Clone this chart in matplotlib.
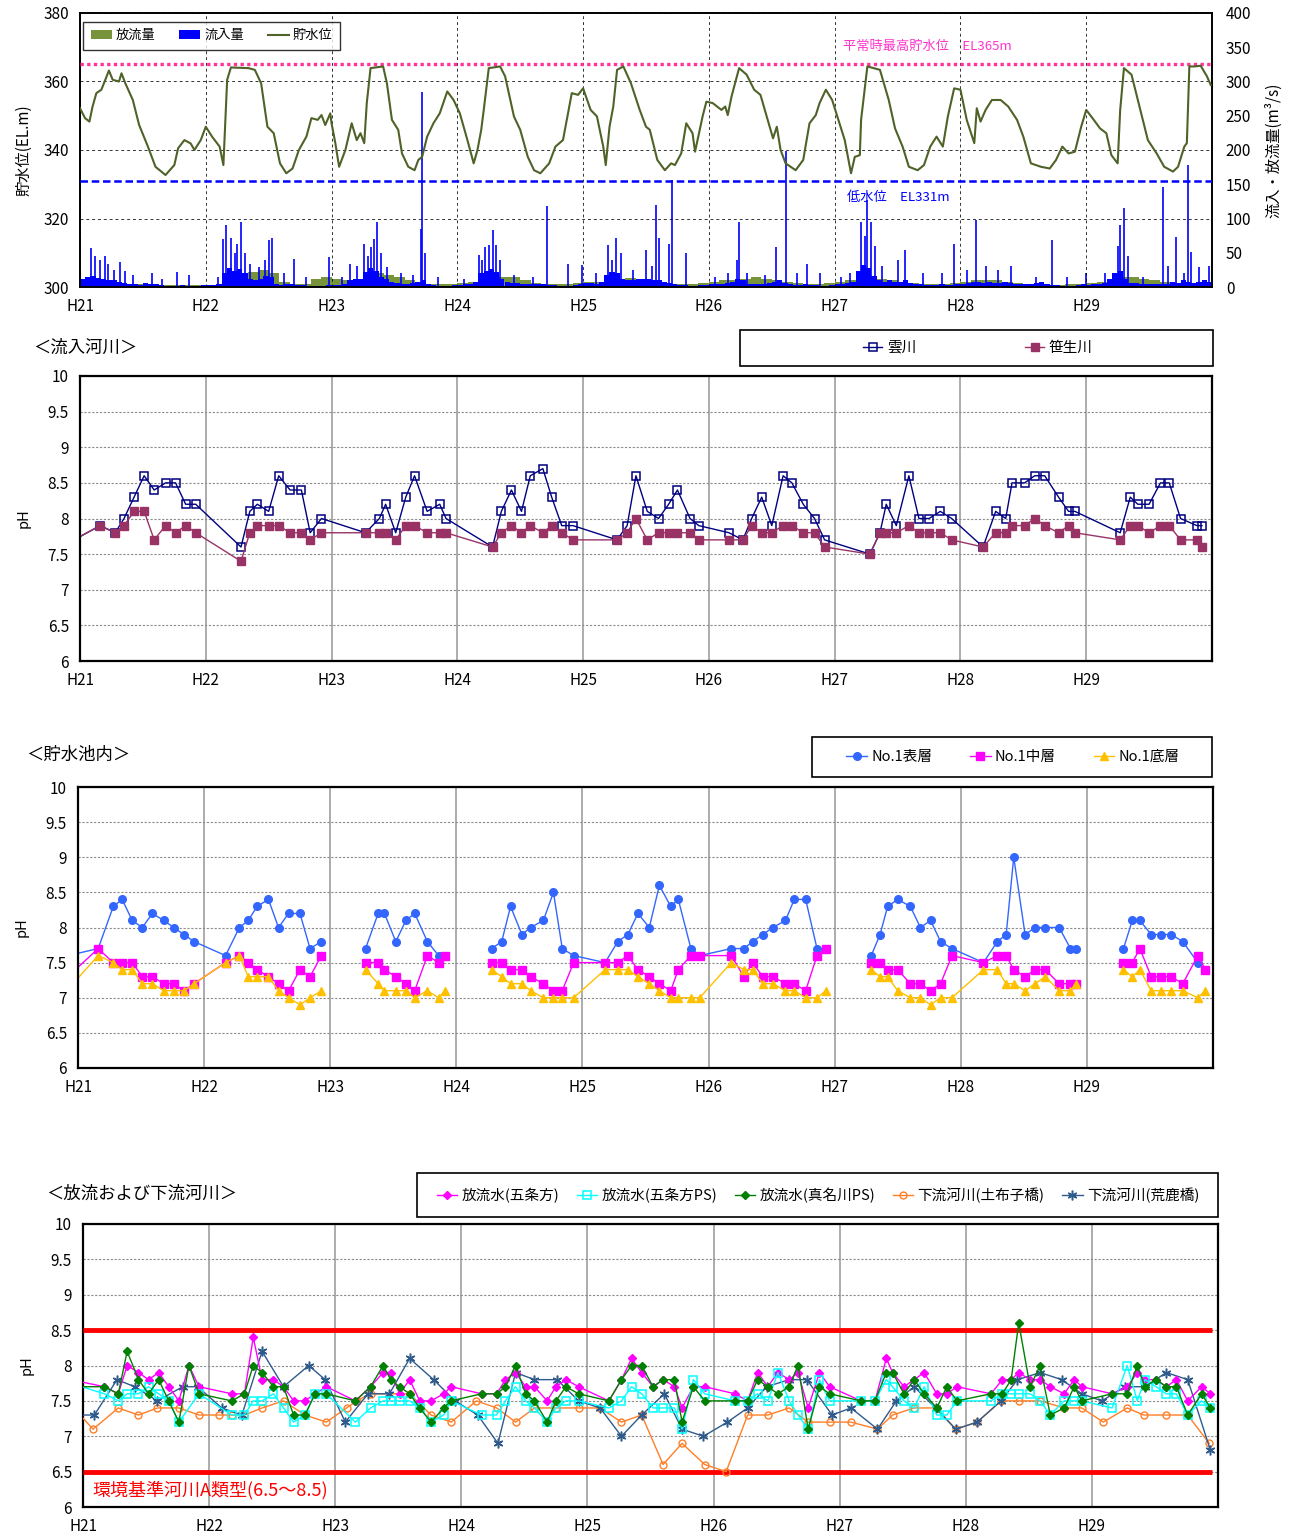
import numpy as np
import matplotlib
matplotlib.use('Agg')
import matplotlib.pyplot as plt
from matplotlib.patches import Patch, Rectangle
from matplotlib.lines import Line2D
from matplotlib.ticker import FuncFormatter

plt.rcParams['font.family'] = ['Noto Sans CJK JP', 'DejaVu Sans']
nan = np.nan

# ---------------- data ----------------
year_labels = ['H21', 'H22', 'H23', 'H24', 'H25', 'H26', 'H27', 'H28', 'H29']

# Panel 1 : reservoir water level (years since start of H21)
wl_t = [0.0, 0.04, 0.075, 0.1, 0.13, 0.17, 0.23, 0.26, 0.31, 0.33,
        0.36, 0.42, 0.47, 0.54, 0.6, 0.68, 0.75, 0.78, 0.83, 0.88,
        0.91, 0.96, 1.0, 1.05, 1.11, 1.14, 1.17, 1.2, 1.34, 1.39,
        1.44, 1.49, 1.54, 1.59, 1.64, 1.69, 1.74, 1.8, 1.84, 1.89,
        1.92, 1.95, 1.99, 2.0, 2.03, 2.06, 2.11, 2.16, 2.2, 2.23,
        2.26, 2.28, 2.31, 2.41, 2.44, 2.48, 2.53, 2.56, 2.61, 2.66,
        2.69, 2.72, 2.76, 2.81, 2.86, 2.92, 2.97, 3.02, 3.08, 3.13,
        3.16, 3.19, 3.21, 3.25, 3.34, 3.38, 3.45, 3.5, 3.56, 3.61,
        3.66, 3.73, 3.78, 3.84, 3.91, 3.96, 4.0, 4.06, 4.11, 4.16,
        4.18, 4.21, 4.24, 4.27, 4.32, 4.38, 4.45, 4.5, 4.53, 4.59,
        4.65, 4.7, 4.73, 4.78, 4.82, 4.87, 4.89, 4.95, 4.98, 5.03,
        5.1, 5.13, 5.15, 5.18, 5.24, 5.3, 5.36, 5.41, 5.46, 5.51,
        5.54, 5.57, 5.61, 5.69, 5.75, 5.8, 5.85, 5.88, 5.93, 5.98,
        6.03, 6.08, 6.13, 6.16, 6.2, 6.21, 6.26, 6.36, 6.43, 6.48,
        6.54, 6.59, 6.66, 6.71, 6.76, 6.81, 6.86, 6.9, 6.95, 7.0,
        7.05, 7.11, 7.13, 7.16, 7.2, 7.25, 7.32, 7.38, 7.45, 7.5,
        7.56, 7.64, 7.71, 7.76, 7.81, 7.86, 7.91, 7.96, 8.0, 8.06,
        8.11, 8.16, 8.2, 8.25, 8.27, 8.3, 8.36, 8.43, 8.49, 8.56,
        8.62, 8.69, 8.73, 8.78, 8.8, 8.82, 8.86, 8.91, 8.96, 8.99]
wl_level = [352.2, 349.3, 348.3, 352.7, 356.6, 357.6, 363.2, 360.5, 360.0, 362.4,
            359.5, 354.6, 347.3, 341.0, 335.1, 332.7, 335.6, 340.5, 342.9, 341.9,
            340.0, 342.9, 346.8, 343.9, 341.0, 335.6, 360.5, 364.1, 363.9, 363.4,
            359.5, 346.8, 344.9, 336.1, 333.2, 334.6, 340.0, 343.9, 349.3, 348.8,
            350.2, 347.3, 350.7, 347.8, 342.0, 335.1, 340.0, 347.8, 342.9, 344.9,
            342.0, 353.7, 363.9, 364.4, 359.5, 348.8, 345.9, 339.0, 335.1, 334.1,
            337.1, 338.0, 343.9, 347.8, 350.7, 357.1, 354.6, 350.7, 342.9, 336.1,
            340.0, 345.9, 351.7, 363.9, 364.4, 361.5, 349.8, 345.9, 338.0, 334.1,
            333.2, 336.1, 341.0, 342.9, 356.6, 356.1, 358.0, 351.7, 349.8, 341.0,
            335.6, 346.8, 352.7, 363.4, 364.4, 359.5, 351.7, 346.8, 345.9, 337.1,
            334.1, 336.1, 335.6, 339.0, 347.8, 344.9, 339.5, 349.8, 354.1, 353.7,
            351.7, 352.7, 350.2, 355.6, 363.9, 362.0, 357.6, 356.1, 349.8, 343.4,
            346.8, 340.0, 336.1, 334.1, 337.1, 347.8, 350.2, 353.7, 357.6, 354.6,
            348.8, 342.9, 333.2, 338.0, 338.5, 348.8, 364.4, 363.4, 354.6, 346.3,
            341.0, 335.1, 334.1, 335.6, 341.0, 343.9, 341.0, 349.8, 358.0, 357.6,
            348.8, 342.0, 352.2, 348.3, 351.7, 354.6, 354.6, 352.7, 348.8, 343.9,
            336.1, 335.1, 334.6, 337.1, 341.0, 339.0, 339.5, 346.8, 351.7, 348.8,
            346.3, 344.9, 338.5, 336.1, 351.7, 363.9, 362.0, 351.7, 342.9, 339.0,
            335.1, 333.7, 335.1, 341.0, 342.0, 364.4, 364.4, 364.6, 361.5, 359.0]

# inflow, half-month base values per fiscal year (m3/s)
inflow_half = [
    [12, 15, 16, 13, 11, 10, 10, 8, 6, 4, 4, 3, 6, 5, 4, 3, 2, 2, 2, 3, 2, 2, 2, 3],
    [3, 3, 5, 20, 28, 24, 26, 20, 12, 10, 11, 16, 14, 5, 3, 4, 5, 3, 3, 2, 2, 2, 2, 3],
    [3, 3, 5, 10, 11, 12, 22, 28, 24, 14, 11, 8, 6, 5, 5, 6, 8, 10, 5, 3, 2, 2, 2, 3],
    [3, 4, 5, 8, 20, 24, 26, 22, 11, 8, 6, 6, 5, 4, 4, 4, 5, 3, 3, 2, 2, 2, 3, 4],
    [6, 6, 5, 8, 18, 22, 20, 12, 10, 10, 11, 12, 11, 10, 10, 8, 6, 4, 3, 3, 2, 2, 3, 3],
    [4, 5, 5, 6, 8, 12, 10, 5, 5, 4, 5, 6, 8, 10, 6, 4, 3, 3, 4, 3, 3, 2, 2, 3],
    [4, 5, 6, 8, 24, 32, 28, 16, 10, 8, 10, 8, 8, 10, 6, 5, 4, 3, 3, 3, 4, 3, 3, 4],
    [5, 6, 8, 8, 6, 8, 6, 6, 8, 6, 5, 5, 4, 5, 6, 8, 4, 3, 3, 2, 2, 2, 3, 4],
    [3, 4, 5, 6, 12, 20, 24, 12, 6, 6, 5, 5, 4, 5, 4, 5, 8, 6, 10, 8, 6, 8, 10, 8],
]
# inflow flood peaks (time, m3/s)
peak_t = [0.085, 0.12, 0.16, 0.2, 0.22, 0.27, 0.32, 0.36, 0.42, 0.57, 0.65, 0.77, 0.87,
          1.1, 1.14, 1.16, 1.2, 1.23, 1.25, 1.28, 1.31, 1.35, 1.42, 1.47, 1.5, 1.53, 1.62, 1.7, 1.8, 1.98,
          2.08, 2.15, 2.2, 2.26, 2.29, 2.31, 2.34, 2.36, 2.39, 2.44, 2.55, 2.65, 2.71, 2.72, 2.74, 2.85,
          3.05, 3.17, 3.2, 3.22, 3.25, 3.28, 3.31, 3.34, 3.45, 3.6, 3.71, 3.88,
          3.99, 4.1, 4.2, 4.23, 4.26, 4.3, 4.4, 4.5, 4.55, 4.58, 4.6, 4.68, 4.71, 4.82,
          5.05, 5.15, 5.22, 5.24, 5.3, 5.45, 5.53, 5.61, 5.7, 5.78, 5.88,
          6.05, 6.12, 6.21, 6.24, 6.26, 6.29, 6.32, 6.38, 6.5, 6.56, 6.7, 6.85, 6.95,
          7.05, 7.12, 7.2, 7.3, 7.4, 7.6, 7.73, 7.85, 8.0,
          8.15, 8.25, 8.27, 8.3, 8.33, 8.45, 8.61, 8.65, 8.71, 8.78, 8.81, 8.83, 8.9, 8.98]
peak_v = [57, 45, 39, 45, 34, 25, 37, 24, 17, 20, 12, 22, 17,
          15, 70, 90, 71, 50, 63, 95, 49, 34, 29, 40, 68, 71, 20, 41, 15, 44,
          15, 34, 30, 63, 45, 58, 70, 95, 49, 29, 20, 18, 85, 285, 49, 15,
          12, 46, 40, 58, 61, 83, 61, 39, 18, 15, 118, 34,
          32, 20, 61, 40, 71, 49, 25, 54, 30, 120, 71, 63, 156, 49,
          15, 20, 40, 95, 20, 18, 58, 198, 20, 34, 20,
          15, 20, 95, 75, 127, 95, 60, 30, 40, 54, 20, 20, 63,
          25, 98, 30, 25, 30, 15, 68, 15, 20,
          20, 60, 90, 115, 45, 15, 146, 30, 73, 20, 178, 51, 29, 30]
# outflow, monthly per fiscal year (m3/s)
outflow_month = [
    [8, 8, 8, 6, 5, 4, 4, 3, 3, 3, 3, 3],
    [3, 5, 10, 15, 22, 25, 20, 8, 5, 5, 12, 15],
    [12, 10, 12, 14, 20, 18, 15, 10, 6, 5, 4, 5],
    [6, 8, 10, 12, 15, 14, 10, 6, 5, 5, 5, 6],
    [8, 8, 10, 12, 13, 12, 8, 5, 4, 4, 5, 6],
    [8, 10, 10, 12, 14, 12, 10, 8, 6, 5, 5, 6],
    [8, 10, 12, 14, 12, 10, 8, 6, 5, 5, 5, 6],
    [8, 10, 10, 10, 8, 6, 5, 4, 3, 3, 4, 5],
    [6, 8, 10, 15, 14, 12, 10, 8, 6, 5, 6, 8],
]

# Panel 2 : inflow rivers pH
river_t = [-0.1, 0.16, 0.28, 0.35, 0.43, 0.51, 0.59, 0.68, 0.76, 0.84, 0.92,
           1.28, 1.35, 1.41, 1.5, 1.58, 1.67, 1.76, 1.83, 1.92,
           2.27, 2.38, 2.43, 2.51, 2.59, 2.66, 2.76, 2.86, 2.91,
           3.28, 3.35, 3.43, 3.51, 3.58, 3.68, 3.75, 3.83, 3.92,
           4.27, 4.35, 4.42, 4.51, 4.6, 4.68, 4.75, 4.85, 4.92,
           5.16, 5.27, 5.34, 5.42, 5.5, 5.59, 5.66, 5.75, 5.84, 5.92,
           6.28, 6.36, 6.41, 6.49, 6.59, 6.67, 6.75, 6.84, 6.93,
           7.18, 7.28, 7.36, 7.41, 7.51, 7.59, 7.67, 7.78, 7.86, 7.91,
           8.27, 8.35, 8.41, 8.5, 8.59, 8.66, 8.75, 8.88, 8.92]
kumo = [7.65, 7.9, 7.8, 8.0, 8.3, 8.6, 8.4, 8.5, 8.5, 8.2, 8.2,
        7.6, 8.1, 8.2, 8.1, 8.6, 8.4, 8.4, 7.8, 8.0,
        7.8, 8.0, 8.2, 7.8, 8.3, 8.6, 8.1, 8.2, 8.0,
        7.6, 8.1, 8.4, 8.1, 8.6, 8.7, 8.3, 7.9, 7.9,
        7.7, 7.9, 8.6, 8.1, 8.0, 8.2, 8.4, 8.0, 7.9,
        7.8, 7.7, 8.0, 8.3, 7.9, 8.6, 8.5, 8.2, 8.0, 7.7,
        7.5, 7.8, 8.2, 7.9, 8.6, 8.0, 8.0, 8.1, 8.0,
        7.6, 8.1, 8.0, 8.5, 8.5, 8.6, 8.6, 8.3, 8.1, 8.1,
        7.8, 8.3, 8.2, 8.2, 8.5, 8.5, 8.0, 7.9, 7.9]
sasou = [7.65, 7.9, 7.8, 7.9, 8.1, 8.1, 7.7, 7.9, 7.8, 7.9, 7.8,
         7.4, 7.8, 7.9, 7.9, 7.9, 7.8, 7.8, 7.7, 7.8,
         7.8, 7.8, 7.8, 7.7, 7.9, 7.9, 7.8, 7.8, 7.8,
         7.6, 7.8, 7.9, 7.8, 7.9, 7.8, 7.9, 7.8, 7.7,
         7.7, 7.8, 8.0, 7.7, 7.8, 7.8, 7.8, 7.8, 7.7,
         7.7, 7.7, 7.9, 7.8, 7.8, 7.9, 7.9, 7.8, 7.8, 7.6,
         7.5, 7.8, 7.8, 7.8, 7.9, 7.8, 7.8, 7.8, 7.7,
         7.6, 7.8, 7.8, 7.9, 7.9, 8.0, 7.9, 7.8, 7.9, 7.8,
         7.7, 7.9, 7.9, 7.8, 7.9, 7.9, 7.7, 7.7, 7.6]

# Panel 3 : reservoir pH (nan = no survey, line break)
res_t = [-0.08, 0.16, 0.28, 0.35, 0.43, 0.51, 0.59, 0.68, 0.76, 0.84, 0.92,
         1.17, 1.28, 1.35, 1.42, 1.51, 1.59, 1.67, 1.76, 1.84, 1.93, nan,
         2.28, 2.38, 2.43, 2.52, 2.6, 2.67, 2.77, 2.86, 2.91, nan,
         3.28, 3.36, 3.43, 3.52, 3.59, 3.69, 3.77, 3.84, 3.93,
         4.18, 4.28, 4.36, 4.44, 4.53, 4.61, 4.7, 4.76, 4.86, 4.93,
         5.18, 5.28, 5.35, 5.43, 5.51, 5.61, 5.68, 5.77, 5.86, 5.93, nan,
         6.29, 6.36, 6.42, 6.5, 6.6, 6.68, 6.76, 6.84, 6.93,
         7.18, 7.29, 7.36, 7.42, 7.51, 7.59, 7.67, 7.78, 7.87, 7.91, nan,
         8.29, 8.36, 8.42, 8.51, 8.59, 8.67, 8.76, 8.88, 8.94]
res_surface = [7.6, 7.7, 8.3, 8.4, 8.1, 8.0, 8.2, 8.1, 8.0, 7.9, 7.8,
               7.6, 8.0, 8.1, 8.3, 8.4, 8.0, 8.2, 8.2, 7.7, 7.8, nan,
               7.7, 8.2, 8.2, 7.8, 8.1, 8.2, 7.8, 7.6, nan, nan,
               7.7, 7.8, 8.3, 7.9, 8.0, 8.1, 8.5, 7.7, 7.6,
               7.5, 7.8, 7.9, 8.2, 8.0, 8.6, 8.3, 8.4, 7.7, 7.6,
               7.7, 7.7, 7.8, 7.9, 8.0, 8.1, 8.4, 8.4, 7.7, 7.7, nan,
               7.6, 7.9, 8.3, 8.4, 8.3, 8.0, 8.1, 7.8, 7.7,
               7.5, 7.8, 7.9, 9.0, 7.9, 8.0, 8.0, 8.0, 7.7, 7.7, nan,
               7.7, 8.1, 8.1, 7.9, 7.9, 7.9, 7.8, 7.5, 7.4]
res_middle = [7.3, 7.7, 7.5, 7.5, 7.5, 7.3, 7.3, 7.2, 7.2, 7.1, 7.2,
              7.5, 7.6, 7.5, 7.4, 7.3, 7.2, 7.1, 7.4, 7.3, 7.6, nan,
              7.5, 7.5, 7.4, 7.3, 7.2, 7.1, 7.6, 7.5, 7.6, nan,
              7.5, 7.5, 7.4, 7.4, 7.3, 7.2, 7.1, 7.1, 7.5,
              7.5, 7.5, 7.6, 7.4, 7.3, 7.2, 7.1, 7.4, 7.6, 7.6,
              7.6, 7.3, 7.5, 7.3, 7.3, 7.2, 7.2, 7.1, 7.6, 7.7, nan,
              7.5, 7.5, 7.4, 7.4, 7.2, 7.2, 7.1, 7.2, 7.6,
              7.5, 7.6, 7.6, 7.4, 7.3, 7.4, 7.4, 7.2, 7.2, 7.2, nan,
              7.5, 7.5, 7.7, 7.3, 7.3, 7.3, 7.2, 7.6, 7.4]
res_bottom = [7.12, 7.6, 7.5, 7.4, 7.4, 7.2, 7.2, 7.1, 7.1, 7.1, 7.2,
              7.5, 7.6, 7.3, 7.3, 7.3, 7.1, 7.0, 6.9, 7.0, 7.1, nan,
              7.4, 7.2, 7.1, 7.1, 7.1, 7.0, 7.1, 7.0, 7.1, nan,
              7.4, 7.3, 7.2, 7.2, 7.1, 7.0, 7.0, 7.0, 7.0,
              7.4, 7.4, 7.4, 7.3, 7.2, 7.1, 7.0, 7.0, 7.0, 7.0,
              7.5, 7.4, 7.4, 7.2, 7.2, 7.1, 7.1, 7.0, 7.0, 7.1, nan,
              7.4, 7.3, 7.3, 7.1, 7.0, 7.0, 6.9, 7.0, 7.0,
              7.4, 7.4, 7.2, 7.2, 7.1, 7.2, 7.3, 7.1, 7.1, 7.2, nan,
              7.4, 7.3, 7.4, 7.1, 7.1, 7.1, 7.1, 7.0, 7.1]

# Panel 4 : discharge / downstream pH
dis_t = [-0.1,
         0.17, 0.28, 0.35, 0.44, 0.52, 0.6, 0.68, 0.76, 0.84, 0.92,
         1.18, 1.28, 1.35, 1.42, 1.51, 1.59, 1.67, 1.76, 1.84, 1.93,
         2.16, 2.28, 2.38, 2.44, 2.51, 2.59, 2.67, 2.76, 2.86, 2.92,
         3.16, 3.28, 3.35, 3.43, 3.51, 3.58, 3.68, 3.75, 3.83, 3.93,
         4.17, 4.27, 4.35, 4.43, 4.52, 4.6, 4.69, 4.75, 4.84, 4.93,
         5.17, 5.27, 5.35, 5.43, 5.51, 5.6, 5.67, 5.75, 5.84, 5.92,
         6.17, 6.28, 6.37, 6.42, 6.51, 6.59, 6.67, 6.77, 6.85, 6.93,
         7.2, 7.29, 7.36, 7.42, 7.51, 7.59, 7.67, 7.78, 7.86, 7.92,
         8.16, 8.28, 8.36, 8.42, 8.51, 8.59, 8.67, 8.76, 8.87, 8.94]
gojo = [7.8,
        7.7, 7.6, 8.0, 7.9, 7.8, 7.9, 7.7, 7.5, 8.0, 7.7,
        7.6, 7.6, 8.4, 7.8, 7.8, 7.7, 7.5, 7.5, 7.6, 7.7,
        7.5, 7.7, 7.9, 7.9, 7.6, 7.8, 7.5, 7.5, 7.6, 7.7,
        7.6, 7.6, 7.8, 7.9, 7.7, 7.7, 7.5, 7.7, 7.8, 7.7,
        7.5, 7.8, 8.1, 7.9, 7.7, 7.8, 7.7, 7.4, 7.7, 7.7,
        7.6, 7.5, 7.9, 7.7, 7.9, 7.8, 7.9, 7.4, 7.9, 7.7,
        7.5, 7.5, 8.1, 7.9, 7.7, 7.8, 7.9, 7.6, 7.6, 7.7,
        7.6, 7.8, 7.8, 7.9, 7.8, 7.8, 7.7, 7.6, 7.8, 7.7,
        7.6, 7.7, 7.9, 7.8, 7.8, 7.7, 7.8, 7.5, 7.7, 7.6]
gojo_ps = [7.75,
           7.6, 7.5, 7.6, 7.6, 7.7, 7.6, 7.5, 7.2, nan, 7.6,
           7.3, 7.3, 7.5, 7.5, 7.6, 7.4, 7.2, 7.3, 7.6, 7.6,
           7.2, 7.4, 7.5, 7.5, 7.5, 7.5, 7.4, 7.2, 7.3, 7.5,
           7.3, 7.3, 7.5, 7.7, 7.5, 7.4, 7.2, 7.4, 7.5, 7.5,
           7.4, 7.5, 7.7, 7.6, 7.4, 7.4, 7.4, 7.1, 7.8, 7.6,
           7.5, 7.5, 7.6, 7.5, 7.9, 7.5, 7.3, 7.1, 7.8, 7.5,
           7.5, 7.5, 7.8, 7.7, 7.5, 7.4, 7.7, 7.3, 7.3, 7.5,
           7.5, 7.6, 7.6, 7.6, 7.6, 7.5, 7.3, 7.5, 7.5, 7.5,
           7.4, 8.0, 7.5, 7.8, 7.7, 7.6, 7.6, 7.3, 7.5, 7.4]
manago_ps = [7.7,
             7.7, 7.6, 8.2, 7.8, 7.6, 7.8, 7.5, 7.2, 8.0, 7.6,
             7.5, 7.6, 8.0, 7.9, 7.7, 7.7, 7.3, 7.3, 7.6, 7.6,
             7.5, 7.7, 8.0, 7.8, 7.7, 7.6, 7.4, 7.2, 7.4, 7.5,
             7.6, 7.6, 7.7, 8.0, 7.6, 7.5, 7.2, 7.5, 7.7, 7.6,
             7.5, 7.8, 8.0, 8.0, 7.7, 7.8, 7.8, 7.2, 7.7, 7.5,
             7.5, 7.5, 7.8, 7.7, 7.6, 7.7, 8.0, 7.1, 7.7, 7.6,
             7.5, 7.5, 7.9, 7.9, 7.6, 7.8, 7.6, 7.4, 7.7, 7.5,
             7.6, 7.6, 7.8, 8.6, 7.7, 8.0, 7.3, 7.4, 7.7, 7.5,
             7.6, 7.6, 8.0, 7.7, 7.8, 7.7, 7.7, 7.3, 7.6, 7.4]
dobuko_t = [-0.1, 0.08, 0.28, 0.44, 0.59, 0.76, 0.92,
            1.08, 1.18, 1.28, 1.42, 1.59, 1.76, 1.93,
            2.09, 2.17, 2.28, 2.59, 2.76, 2.92,
            3.12, 3.28, 3.43, 3.58, 3.75, 3.93,
            4.1, 4.27, 4.43, 4.6, 4.75, 4.93,
            5.1, 5.27, 5.43, 5.6, 5.75, 5.92,
            6.09, 6.3, 6.42, 6.59, 6.77, 6.92,
            7.09, 7.28, 7.42, 7.59, 7.78, 7.92,
            8.09, 8.28, 8.41, 8.59, 8.76, 8.93]
dobuko = [7.45, 7.1, 7.4, 7.3, 7.4, 7.4, 7.3,
          7.3, 7.3, 7.3, 7.4, 7.5, 7.3, 7.2,
          7.4, 7.5, 7.6, 7.6, 7.3, 7.2,
          7.5, 7.4, 7.2, 7.4, 7.4, 7.4,
          7.4, 7.2, 7.3, 6.6, 6.9, 6.6,
          6.5, 7.3, 7.3, 7.4, 7.2, 7.2,
          7.2, 7.1, 7.3, 7.4, 7.4, 7.1,
          7.2, 7.5, 7.5, 7.5, 7.4, 7.4,
          7.2, 7.4, 7.3, 7.3, 7.3, 6.9]
arashika_t = [-0.1, 0.09, 0.27, 0.41, 0.59, 0.79, 0.91,
              1.1, 1.26, 1.42, 1.59, 1.79, 1.92,
              2.08, 2.26, 2.43, 2.59, 2.78, 2.95,
              3.13, 3.29, 3.43, 3.58, 3.76, 3.93,
              4.1, 4.27, 4.43, 4.61, 4.75, 4.92,
              5.11, 5.27, 5.42, 5.6, 5.74, 5.94,
              6.09, 6.3, 6.45, 6.59, 6.76, 6.92,
              7.09, 7.28, 7.41, 7.59, 7.76, 7.92,
              8.08, 8.26, 8.42, 8.59, 8.76, 8.94]
arashika = [7.3, 7.3, 7.8, 7.7, 7.5, 7.7, 7.7,
            7.4, 7.3, 8.2, 7.7, 8.0, 7.8,
            7.2, 7.6, 7.6, 8.1, 7.8, 7.5,
            7.3, 6.9, 7.9, 7.8, 7.8, 7.5,
            7.4, 7.0, 7.3, 7.6, 7.1, 7.0,
            7.2, 7.4, 7.7, 7.8, 7.8, 7.3,
            7.4, 7.1, 7.5, 7.7, 7.4, 7.1,
            7.2, 7.5, 7.8, 7.9, 7.8, 7.6,
            7.5, 7.7, 7.7, 7.9, 7.8, 6.8]

# ---------------- figure ----------------
W, H = 1289, 1535
fig = plt.figure(figsize=(W / 100, H / 100), dpi=100)


def fx(px):
    return px / W


def fy(py):
    return 1 - py / H


def axrect(l, t, r, b):
    return [l / W, 1 - b / H, (r - l) / W, (b - t) / H]


TICK_FS = 11
fmt = FuncFormatter(lambda v, p: f'{v:g}')


def style_ph_axes(ax):
    ax.set_xlim(0, 9)
    ax.set_ylim(6, 10)
    ax.set_yticks(np.arange(6, 10.01, 0.5))
    ax.yaxis.set_major_formatter(fmt)
    ax.set_xticks(range(9))
    ax.set_xticklabels(year_labels)
    ax.tick_params(length=0, labelsize=TICK_FS, pad=8)
    ax.yaxis.grid(True, color='#8c8c8c', ls=(0, (2, 1.5)), lw=0.8)
    ax.xaxis.grid(True, color='#a6a6a6', ls='-', lw=1.3)
    ax.set_axisbelow(True)
    for s in ax.spines.values():
        s.set_color('black')
        s.set_linewidth(1.6)


# ---- Panel 1 ----
ax1 = fig.add_axes(axrect(80, 13, 1212, 287))
ax2 = ax1.twinx()
month_t = np.arange(9 * 12) / 12.0
ax2.bar(month_t, np.ravel(outflow_month), width=1 / 12, align='edge',
        color='#77933C', lw=0, zorder=1)
half_t = np.arange(9 * 24) / 24.0
ax2.bar(half_t, np.ravel(inflow_half), width=1 / 24, align='edge',
        color='#0000FF', lw=0, zorder=2)
ax2.vlines(peak_t, 0, peak_v, color='#0000FF', lw=1.2, zorder=3)
ax2.set_ylim(0, 400)
ax2.set_yticks(np.arange(0, 401, 50))
ax2.tick_params(length=0, labelsize=TICK_FS, pad=10)
ax2.set_ylabel('流入・放流量(m³/s)', fontsize=11, labelpad=10)

ax1.set_zorder(ax2.get_zorder() + 1)
ax1.patch.set_visible(False)
ax1.plot(wl_t, wl_level, color='#4F6228', lw=1.5, zorder=5)
ax1.axhline(365, color='#FF3399', lw=2.4, ls=(0, (1, 1)), zorder=4)
ax1.axhline(331, color='#0000FF', lw=1.8, ls=(0, (3, 1.5)), zorder=4)
ax1.set_xlim(0, 9)
ax1.set_ylim(300, 380)
ax1.set_yticks(np.arange(300, 381, 20))
ax1.set_xticks(range(9))
ax1.set_xticklabels(year_labels)
ax1.tick_params(length=0, labelsize=TICK_FS, pad=8)
ax1.grid(True, color='black', ls=(0, (3, 3)), lw=0.7, alpha=0.8)
ax1.set_ylabel('貯水位(EL.m)', fontsize=11, labelpad=8)
for s in list(ax1.spines.values()) + list(ax2.spines.values()):
    s.set_color('black')
    s.set_linewidth(1.2)
fig.text(fx(843), fy(46), '平常時最高貯水位　EL365m', color='#FF33CC',
         fontsize=9.5, va='center', ha='left')
fig.text(fx(847), fy(198), '低水位　EL331m', color='#0000FF',
         fontsize=9.5, va='center', ha='left')
h1 = [Patch(fc='#77933C', ec='none'), Patch(fc='#0000FF', ec='none'),
      Line2D([], [], color='#4F6228', lw=1.5)]
leg1 = ax1.legend(h1, ['放流量', '流入量', '貯水位'], loc='upper left',
                  bbox_to_anchor=(0.003, 0.967), ncol=3, fontsize=9.5,
                  frameon=True, fancybox=False, edgecolor='black',
                  handlelength=1.6, handleheight=0.6, columnspacing=1.8,
                  handletextpad=0.3, borderpad=0.55, borderaxespad=0)
leg1.get_frame().set_linewidth(1.0)

# ---- Panel 2 ----
axp2 = fig.add_axes(axrect(80, 376, 1212, 661))
style_ph_axes(axp2)
axp2.plot(river_t, kumo, color='#000080', lw=1, marker='s', ms=5.5,
          mfc='none', mec='#000080', mew=1.1, label='雲川')
axp2.plot(river_t, sasou, color='#993366', lw=1, marker='s', ms=5.5,
          mfc='#993366', mec='#993366', label='笹生川')
axp2.set_ylabel('pH', fontsize=10.5, labelpad=12)
fig.text(fx(33), fy(348), '＜流入河川＞', fontsize=12.5, va='center', ha='left')
fig.add_artist(Rectangle((fx(740), fy(366)), fx(1213) - fx(740), 36 / H,
                         transform=fig.transFigure, fill=False,
                         ec='black', lw=1.2))
fig.legend(*axp2.get_legend_handles_labels(), loc='center',
           bbox_to_anchor=(fx(978), fy(348)), ncol=2, frameon=False,
           fontsize=10.5, handlelength=1.3, handletextpad=0.3,
           columnspacing=7.5)

# ---- Panel 3 ----
axp3 = fig.add_axes(axrect(78, 787, 1213, 1068))
style_ph_axes(axp3)
axp3.plot(res_t, res_surface, color='#3366FF', lw=1, marker='o', ms=5.5,
          mec='#3366FF', label='No.1表層')
axp3.plot(res_t, res_middle, color='#FF00FF', lw=1, marker='s', ms=5.5,
          mec='#FF00FF', label='No.1中層')
axp3.plot(res_t, res_bottom, color='#FFC000', lw=1, marker='^', ms=5.5,
          mec='#FFC000', label='No.1底層')
axp3.set_ylabel('pH', fontsize=10.5, labelpad=12)
fig.text(fx(26), fy(755), '＜貯水池内＞', fontsize=12.5, va='center', ha='left')
fig.add_artist(Rectangle((fx(812), fy(777)), fx(1212) - fx(812), 40 / H,
                         transform=fig.transFigure, fill=False,
                         ec='black', lw=1.2))
fig.legend(*axp3.get_legend_handles_labels(), loc='center',
           bbox_to_anchor=(fx(1013), fy(757)), ncol=3, frameon=False,
           fontsize=10.5, handlelength=1.4, handletextpad=0.3,
           columnspacing=2.6)

# ---- Panel 4 ----
axp4 = fig.add_axes(axrect(83, 1224, 1218, 1507))
style_ph_axes(axp4)
axp4.hlines([8.5, 6.5], 0, 8.95, color='#FF0000', lw=3.5, zorder=3)


def valid(t, v):
    t = np.asarray(t, float)
    v = np.asarray(v, float)
    m = ~np.isnan(v)
    return t[m], v[m]


axp4.plot(*valid(dis_t, gojo), color='#FF00FF', lw=1, marker='D', ms=4.5,
          mec='#FF00FF', label='放流水(五条方)', zorder=5)
axp4.plot(*valid(dis_t, gojo_ps), color='#00FFFF', lw=1, marker='s', ms=5.5,
          mfc='none', mec='#00FFFF', mew=1.1, label='放流水(五条方PS)', zorder=5)
axp4.plot(*valid(dis_t, manago_ps), color='#008000', lw=1, marker='D', ms=4.5,
          mec='#008000', label='放流水(真名川PS)', zorder=5)
axp4.plot(*valid(dobuko_t, dobuko), color='#FF7F27', lw=1, marker='o', ms=5,
          mfc='none', mec='#FF7F27', label='下流河川(土布子橋)', zorder=4)
axp4.plot(*valid(arashika_t, arashika), color='#2F5A8C', lw=1,
          marker=(6, 2, 0), ms=7, mec='#2F5A8C', mew=1.1,
          label='下流河川(荒鹿橋)', zorder=4)
axp4.set_ylabel('pH', fontsize=10.5, labelpad=12)
fig.text(fx(46), fy(1194), '＜放流および下流河川＞', fontsize=12.5,
         va='center', ha='left')
fig.text(fx(92), fy(1490), '環境基準河川A類型(6.5～8.5)', fontsize=13,
         color='#FF0000', va='center', ha='left')
fig.add_artist(Rectangle((fx(417), fy(1217)), fx(1218) - fx(417), 44 / H,
                         transform=fig.transFigure, fill=False,
                         ec='black', lw=1.2))
fig.legend(*axp4.get_legend_handles_labels(), loc='center',
           bbox_to_anchor=(fx(818), fy(1195)), ncol=5, frameon=False,
           fontsize=10.5, handlelength=1.4, handletextpad=0.3,
           columnspacing=1.2)

fig.savefig('out.png', dpi=100, facecolor='white')
